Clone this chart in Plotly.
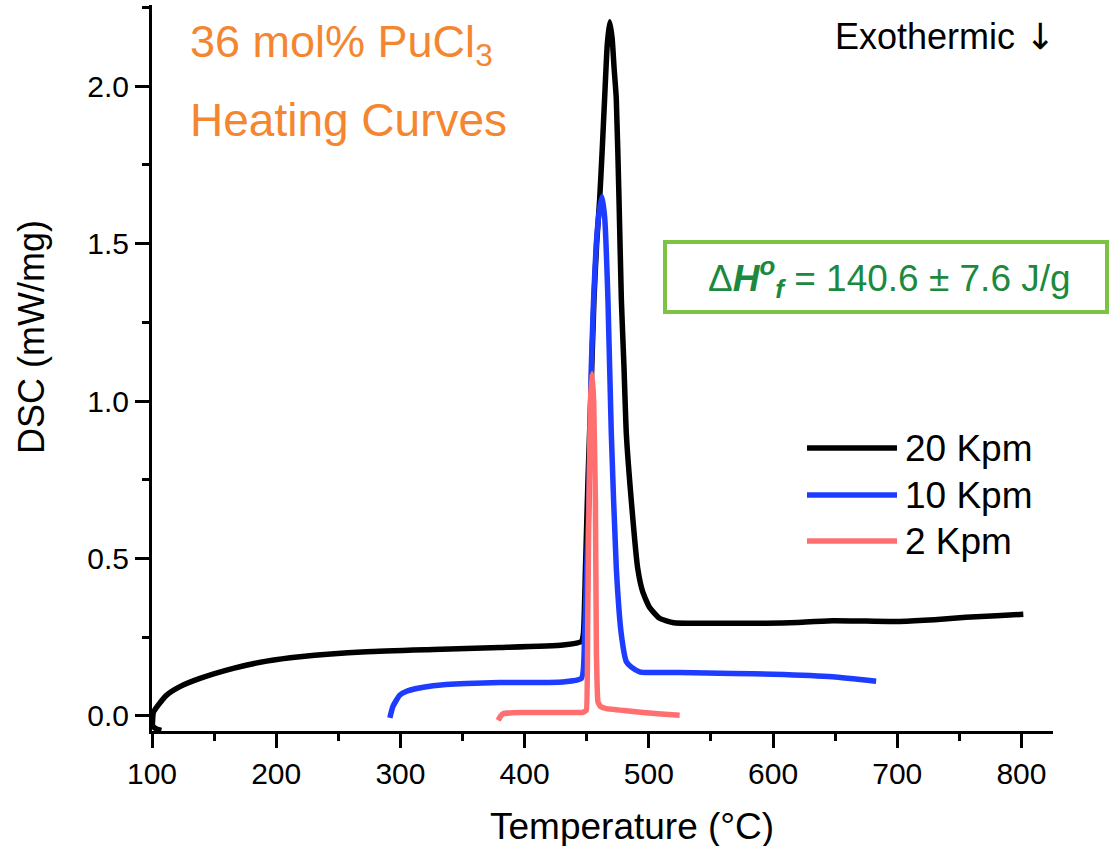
import plotly.graph_objects as go

# ---------------- data ----------------
temp_20 = [107.5, 104.0, 100.6, 100.5, 101.2, 105.0, 111.8, 122.5, 138.6, 165.4,
           192.3, 219.0, 272.7, 326.3, 380.0, 430.9, 445.7, 447.3, 449.0, 451.0,
           453.2, 455.8, 458.0, 460.4, 462.5, 464.4, 466.5, 468.5, 470.5, 472.0,
           473.8, 476.0, 477.9, 480.0, 481.9, 485.9, 491.0, 495.0, 500.5, 508.7,
           520.0, 540.0, 570.0, 594.5, 620.0, 648.0, 675.0, 701.8, 730.0, 755.4,
           780.0, 801.5]
dsc_20 = [-0.046, -0.042, -0.032, -0.012, 0.012, 0.034, 0.066, 0.093, 0.119, 0.151,
          0.174, 0.188, 0.204, 0.211, 0.217, 0.225, 0.236, 0.26, 0.47, 0.75,
          1.0, 1.32, 1.5, 1.64, 1.8, 1.96, 2.13, 2.205, 2.15, 2.06,
          1.96, 1.64, 1.32, 1.108, 0.895, 0.683, 0.47, 0.395, 0.345, 0.31,
          0.296, 0.294, 0.294, 0.294, 0.297, 0.302, 0.301, 0.300, 0.305, 0.313,
          0.318, 0.323]

temp_10 = [291.5, 294.0, 299.5, 305.0, 313.0, 326.3, 353.0, 380.0, 430.9, 445.7,
           448.3, 450.0, 451.8, 453.7, 455.5, 457.7, 460.0, 462.3, 464.5, 467.1,
           469.8, 473.8, 477.9, 481.9, 486.0, 492.6, 498.0, 525.0, 567.7, 600.0,
           648.0, 683.0]
dsc_10 = [-0.006, 0.03, 0.066, 0.078, 0.087, 0.096, 0.103, 0.106, 0.108, 0.119,
          0.257, 0.47, 0.683, 1.108, 1.32, 1.5, 1.6, 1.65, 1.58, 1.32,
          0.895, 0.47, 0.257, 0.172, 0.155, 0.14, 0.138, 0.138, 0.135, 0.132,
          0.124, 0.11]

temp_2 = [378.7, 380.5, 382.7, 390.0, 404.0, 430.0, 447.0, 449.7, 450.8, 451.8,
          453.0, 454.3, 455.6, 457.0, 457.8, 459.0, 461.0, 465.8, 480.0, 495.3,
          510.0, 524.8]
dsc_2 = [-0.014, -0.002, 0.007, 0.010, 0.011, 0.011, 0.011, 0.018, 0.3, 0.68,
         1.0, 1.087, 1.0, 0.68, 0.2, 0.045, 0.03, 0.023, 0.017, 0.011,
         0.006, 0.002]

series_names = ["20 Kpm", "10 Kpm", "2 Kpm"]
series_colors = ["#000000", "#1E3CFF", "#FF6F6F"]
series_smoothing = [0.5, 0.5, 0.25]

x_tick_vals = [100, 200, 300, 400, 500, 600, 700, 800]
x_tick_text = ["100", "200", "300", "400", "500", "600", "700", "800"]
y_tick_vals = [0.0, 0.5, 1.0, 1.5, 2.0]
y_tick_text = ["0.0", "0.5", "1.0", "1.5", "2.0"]

title_line1 = "36 mol% PuCl<sub>3</sub>"
title_line2 = "Heating Curves"
enthalpy_text = ("\u0394<b><i>H</i></b><sup><b><i>o</i></b></sup><sub><b><i>f</i></b></sub>"
                 " = 140.6 \u00b1 7.6 J/g")
exo_text = "Exothermic <span style='font-family:DejaVu Sans'>\u2193</span>"
x_title = "Temperature (\u00b0C)"
y_title = "DSC (mW/mg)"

# ---------------- layout geometry ----------------
W, H = 1110, 846
L, R, T, B = 152, 57, 5, 115
PW, PH = W - L - R, H - T - B


def px(x):
    return (x - L) / PW


def py(y):
    return (H - B - y) / PH


ARIAL = "Liberation Sans, Arial, sans-serif"

fig = go.Figure()
series = [(temp_20, dsc_20), (temp_10, dsc_10), (temp_2, dsc_2)]
for (xs, ys), name, color, sm in zip(series, series_names, series_colors, series_smoothing):
    fig.add_trace(go.Scatter(x=xs, y=ys, mode="lines", name=name,
                             line=dict(color=color, width=5.5, shape="spline", smoothing=sm),
                             showlegend=False))

axis_common = dict(showline=True, linecolor="black", linewidth=3, mirror=False,
                   ticks="outside", ticklen=14, tickwidth=2.5, tickcolor="black",
                   showgrid=False, zeroline=False,
                   tickfont=dict(family=ARIAL, size=30, color="black"))

fig.update_xaxes(range=[100, 825.4], tickvals=x_tick_vals, ticktext=x_tick_text,
                 minor=dict(ticks="outside", ticklen=7, tickwidth=2.5, tickcolor="black",
                            dtick=50, tick0=100, showgrid=False),
                 **axis_common)
fig.update_yaxes(range=[-0.048, 2.258], tickvals=y_tick_vals, ticktext=y_tick_text,
                 minor=dict(ticks="outside", ticklen=7, tickwidth=2.5, tickcolor="black",
                            dtick=0.25, tick0=0, showgrid=False),
                 **axis_common)

annotations = []
shapes = []

# axis titles
annotations.append(dict(text=x_title, xref="paper", yref="paper", x=px(632), y=py(826),
                        xanchor="center", yanchor="middle", showarrow=False,
                        font=dict(family=ARIAL, size=37, color="black")))
annotations.append(dict(text=y_title, xref="paper", yref="paper", x=px(32), y=py(337),
                        xanchor="center", yanchor="middle", showarrow=False, textangle=-90,
                        font=dict(family=ARIAL, size=36, color="black")))

# orange title
annotations.append(dict(text=title_line1, xref="paper", yref="paper", x=px(188), y=py(44),
                        xanchor="left", yanchor="middle", showarrow=False,
                        font=dict(family=ARIAL, size=45, color="#F58630")))
annotations.append(dict(text=title_line2, xref="paper", yref="paper", x=px(188), y=py(120),
                        xanchor="left", yanchor="middle", showarrow=False,
                        font=dict(family=ARIAL, size=46, color="#F58630")))

# exothermic
annotations.append(dict(text=exo_text, xref="paper", yref="paper", x=px(833), y=py(36),
                        xanchor="left", yanchor="middle", showarrow=False,
                        font=dict(family=ARIAL, size=36, color="black")))

# enthalpy box
shapes.append(dict(type="rect", xref="paper", yref="paper",
                   x0=px(665), x1=px(1107), y0=py(312), y1=py(242),
                   line=dict(color="#7DC242", width=4), fillcolor="white", layer="above"))
annotations.append(dict(text=enthalpy_text, xref="paper", yref="paper", x=px(889), y=py(277),
                        xanchor="center", yanchor="middle", showarrow=False,
                        font=dict(family=ARIAL, size=37, color="#1B8A3E")))

# legend (drawn manually to match the long sample lines)
legend_rows = [448, 495, 541]
for name, color, row in zip(series_names, series_colors, legend_rows):
    shapes.append(dict(type="line", xref="paper", yref="paper",
                       x0=px(807), x1=px(897), y0=py(row), y1=py(row),
                       line=dict(color=color, width=5.5)))
    annotations.append(dict(text=name, xref="paper", yref="paper", x=px(903), y=py(row),
                            xanchor="left", yanchor="middle", showarrow=False,
                            font=dict(family=ARIAL, size=37, color="black")))

fig.update_layout(width=W, height=H, autosize=False,
                  margin=dict(l=L, r=R, t=T, b=B, pad=0),
                  paper_bgcolor="white", plot_bgcolor="white",
                  showlegend=False, annotations=annotations, shapes=shapes)

fig.write_html("out.html")
